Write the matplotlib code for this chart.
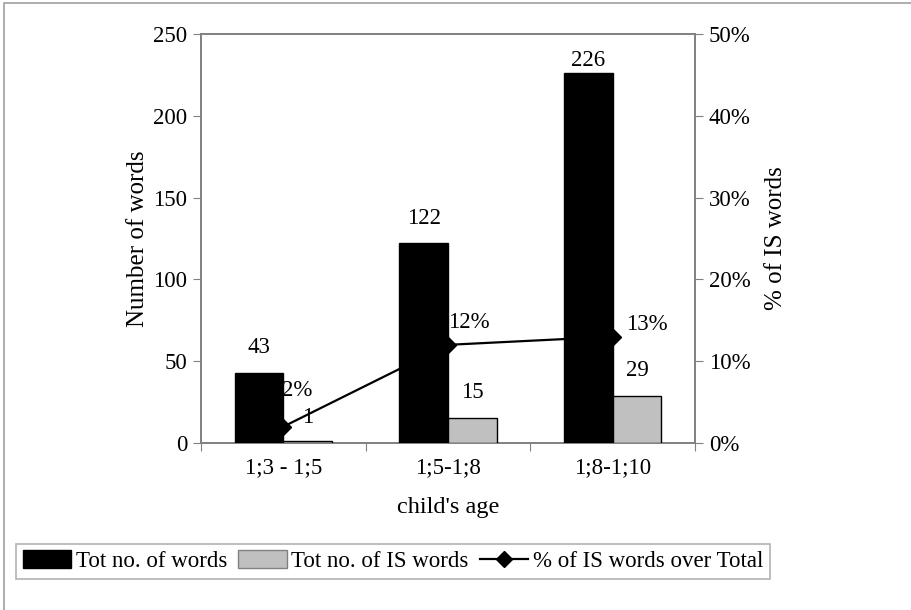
import matplotlib
matplotlib.use("Agg")
import matplotlib.pyplot as plt
from matplotlib.patches import Rectangle, Patch
from matplotlib.lines import Line2D
import numpy as np

categories = ["1;3 - 1;5", "1;5-1;8", "1;8-1;10"]
tot_words = [43, 122, 226]
is_words = [1, 15, 29]
pct_is = [0.02, 0.12, 0.13]
pct_labels = ["2%", "12%", "13%"]

# label offsets in pixels (dx, dy) from the data point
tot_off = [(0, 25), (0, 25), (0, 13)]
is_off = [(0, 24), (0, 26), (0, 25)]
pct_off = [(14, 36), (21, 22), (34, 12)]

plt.rcParams['font.family'] = ['Liberation Serif', 'DejaVu Serif']
FS = 16.5
FS_T = 18

fig = plt.figure(figsize=(9.12, 6.10), dpi=100)
W, H = 912, 610
ax = fig.add_axes([201 / W, 1 - 443 / H, (695 - 201) / W, (443 - 34) / H])
ax2 = ax.twinx()
ax.set_zorder(2)
ax2.set_zorder(1)
ax.patch.set_visible(False)

x = np.arange(len(categories))
bw = 0.295
ax.bar(x - bw / 2, tot_words, bw, color='black', edgecolor='black', linewidth=1, zorder=3)
ax.bar(x + bw / 2, is_words, bw, color='#c0c0c0', edgecolor='black', linewidth=1, zorder=3)
ax2.plot(x, pct_is, color='black', lw=1.6, marker='D', markersize=8, zorder=2)

ax.set_xlim(-0.5, 2.5)
ax.set_ylim(0, 250)
ax2.set_ylim(0, 0.5)
ax.set_yticks(np.arange(0, 251, 50))
ax2.set_yticks(np.arange(0, 0.51, 0.1))
ax2.set_yticklabels([f"{int(round(v * 100))}%" for v in np.arange(0, 0.51, 0.1)])

ax.set_xticks([-0.5, 0.5, 1.5, 2.5])
ax.set_xticklabels([])
ax.set_xticks(x, minor=True)
ax.set_xticklabels(categories, minor=True)
ax.tick_params(axis='x', which='minor', length=0, pad=10, labelsize=FS)
ax.tick_params(axis='x', which='major', length=6, color='#808080', direction='out')
ax.tick_params(axis='y', length=6, color='#808080', direction='out', labelsize=FS, pad=4)
ax2.tick_params(axis='y', length=6, color='#808080', direction='out', labelsize=FS, pad=4)

for a in (ax, ax2):
    for s in a.spines.values():
        s.set_color('#808080')
        s.set_linewidth(1.2)

ax.set_ylabel("Number of words", fontsize=FS_T, labelpad=3)
ax2.set_ylabel("% of IS words", fontsize=FS_T, labelpad=10)
ax.set_xlabel("child's age", fontsize=FS_T - 0.5, labelpad=14)

px = 72 / 100
for i in range(len(x)):
    ax.annotate(str(tot_words[i]), (x[i] - bw / 2, tot_words[i]),
                xytext=(tot_off[i][0] * px, tot_off[i][1] * px), textcoords='offset points',
                ha='center', va='center', fontsize=FS, zorder=5)
    ax.annotate(str(is_words[i]), (x[i] + bw / 2, is_words[i]),
                xytext=(is_off[i][0] * px, is_off[i][1] * px), textcoords='offset points',
                ha='center', va='center', fontsize=FS, zorder=5)
    ax.annotate(pct_labels[i], (x[i], pct_is[i] * 500),
                xytext=(pct_off[i][0] * px, pct_off[i][1] * px), textcoords='offset points',
                ha='center', va='center', fontsize=FS, zorder=5)

handles = [Patch(facecolor='black', edgecolor='black'),
           Patch(facecolor='#c0c0c0', edgecolor='#808080'),
           Line2D([0], [0], color='black', lw=1.6, marker='D', markersize=8)]
labels = ["Tot no. of words", "Tot no. of IS words", "% of IS words over Total"]
leg = fig.legend(handles, labels, loc='lower left', bbox_to_anchor=(16 / W, 1 - 579 / H),
                 ncol=3, fontsize=FS, frameon=True, fancybox=False, borderpad=0.3,
                 handlelength=2.1, handleheight=0.8, handletextpad=0.2, columnspacing=0.5,
                 borderaxespad=0)
leg.get_frame().set_edgecolor('#a0a0a0')
leg.get_frame().set_linewidth(1.2)

fig.patches.append(Rectangle((4 / W, -0.1), 1.2, 1 - 3 / H + 0.1, transform=fig.transFigure,
                             fill=False, edgecolor='#a0a0a0', linewidth=1.2))

fig.savefig("out.png", dpi=100)
